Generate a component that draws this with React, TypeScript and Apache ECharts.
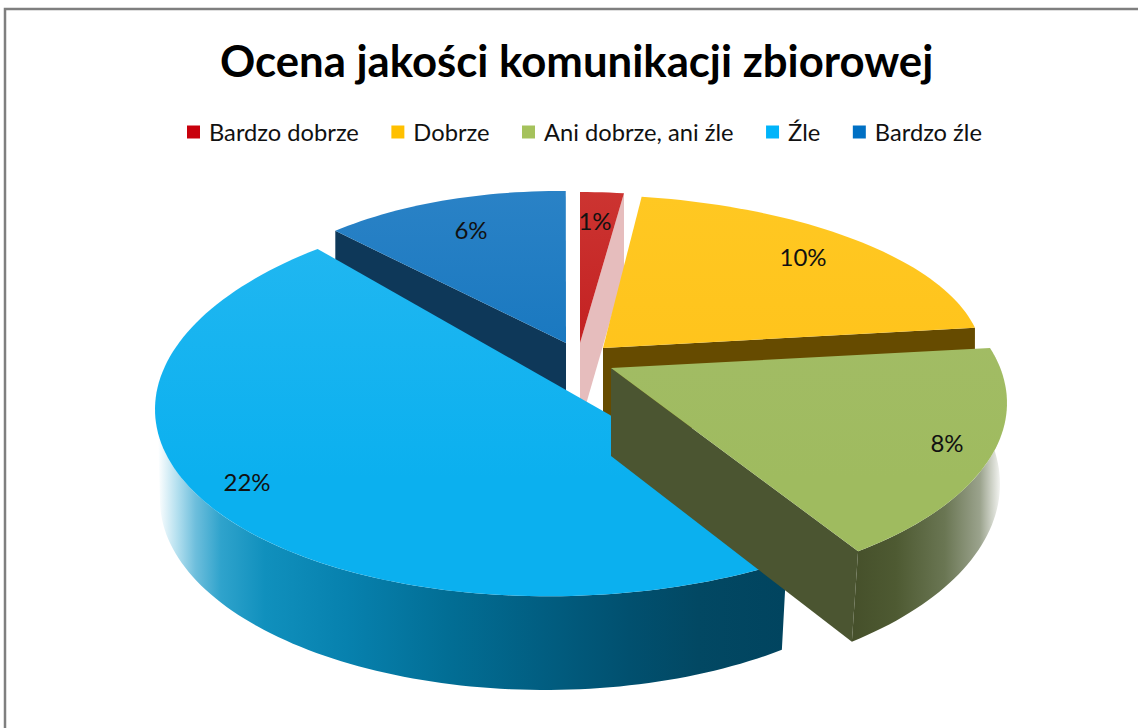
import React, { useEffect, useRef } from "react";
import * as echarts from "echarts";

const titleText = "Ocena jakości komunikacji zbiorowej";
const categories = ["Bardzo dobrze", "Dobrze", "Ani dobrze, ani źle", "Źle", "Bardzo źle"];
const values = [1, 10, 8, 22, 6];
const legendColors = ["#C8000C", "#FFC000", "#A5C25C", "#00B4FA", "#0070C4"];

const total = values.reduce((a, b) => a + b, 0);
const cumulative = values.map((_, i) => values.slice(0, i).reduce((a, b) => a + b, 0));

type Ell = { cx: number; cy: number; rx: number; ry: number; shear?: number };
type Layout = {
  z: number;
  apex: [number, number];
  apexDepth: number;
  top: Ell;
  bottom: Ell;
  dStart: number;
  dEnd: number;
  dBottom: number;
  topFill: [string, string];
  radialEdge?: "start" | "end";
  radialFill?: string;
  outer?: { from?: number; to?: number; x: number; x2: number; stops: [number, string][] };
  label: [number, number];
};

const layouts: Layout[] = [
  {
    z: 2,
    apex: [580, 343],
    apexDepth: 82,
    top: { cx: 580, cy: 342, rx: 330, ry: 150 },
    bottom: { cx: 580, cy: 422, rx: 330, ry: 150 },
    dStart: 0,
    dEnd: 0,
    dBottom: 0,
    topFill: ["#CC3431", "#C01A1C"],
    radialEdge: "end",
    radialFill: "#E6BDBD",
    label: [595, 220],
  },
  {
    z: 3,
    apex: [603, 348],
    apexDepth: 85,
    top: { cx: 600, cy: 350, rx: 382, ry: 155, shear: 0.02 },
    bottom: { cx: 600, cy: 435, rx: 382, ry: 155, shear: 0.02 },
    dStart: -1.4,
    dEnd: -5.3,
    dBottom: 0,
    topFill: ["#FFC822", "#FFC21A"],
    radialEdge: "end",
    radialFill: "#664B00",
    label: [803, 256],
  },
  {
    z: 5,
    apex: [611, 368],
    apexDepth: 88,
    top: { cx: 620, cy: 403, rx: 387, ry: 188 },
    bottom: { cx: 615, cy: 484, rx: 385, ry: 200 },
    dStart: -11.3,
    dEnd: -3.5,
    dBottom: 0,
    topFill: ["#A4BD69", "#9FBB5F"],
    radialEdge: "end",
    radialFill: "#4B5531",
    outer: {
      from: 75,
      x: 850,
      x2: 1003,
      stops: [
        [0, "#454F2A"],
        [0.3, "#4E5A32"],
        [0.62, "#6A7653"],
        [0.85, "#9BA38D"],
        [1, "#FFFFFF"],
      ],
    },
    label: [947, 442],
  },
  {
    z: 4,
    apex: [610, 415],
    apexDepth: 88,
    top: { cx: 570, cy: 399, rx: 415, ry: 197, shear: -0.025 },
    bottom: { cx: 545, cy: 500, rx: 385, ry: 190 },
    dStart: 3,
    dEnd: 8.5,
    dBottom: -6.5,
    topFill: ["#24B8F1", "#0BB0EF"],
    outer: {
      to: 275,
      x: 158,
      x2: 787,
      stops: [
        [0, "#FFFFFF"],
        [0.03, "#B5E0EF"],
        [0.06, "#6DBEDC"],
        [0.1, "#2FA3CC"],
        [0.17, "#1090BD"],
        [0.3, "#0781AE"],
        [0.46, "#026E95"],
        [0.62, "#015D80"],
        [0.75, "#01506F"],
        [0.86, "#024863"],
        [1, "#01445F"],
      ],
    },
    label: [247, 481],
  },
  {
    z: 1,
    apex: [566, 343],
    apexDepth: 85,
    top: { cx: 560, cy: 341, rx: 331, ry: 150 },
    bottom: { cx: 560, cy: 426, rx: 331, ry: 150 },
    dStart: 3.2,
    dEnd: 1,
    dBottom: 0,
    topFill: ["#2A82C6", "#1475BE"],
    radialEdge: "start",
    radialFill: "#0E3859",
    label: [471, 229],
  },
];

const pointAt = (e: Ell, deg: number): number[] => {
  const t = (deg * Math.PI) / 180;
  const dx = e.rx * Math.sin(t);
  return [e.cx + dx, e.cy - e.ry * Math.cos(t) + (e.shear || 0) * dx];
};
const arc = (e: Ell, a: number, b: number): number[][] => {
  const n = Math.max(2, Math.ceil(Math.abs(b - a) / 1.5));
  const out: number[][] = [];
  for (let i = 0; i <= n; i++) out.push(pointAt(e, a + ((b - a) * i) / n));
  return out;
};

const makeRender = (index: number) => (_params: any, api: any) => {
  const value = api.value(0) as number;
  const l = layouts[index];
  const start = (cumulative[index] / total) * 360 + l.dStart;
  const end = ((cumulative[index] + value) / total) * 360 + l.dEnd;
  const children: any[] = [];

  if (l.radialEdge) {
    const edge = l.radialEdge === "start" ? start : end;
    children.push({
      type: "polygon",
      shape: {
        points: [
          l.apex,
          pointAt(l.top, edge),
          pointAt(l.bottom, edge + l.dBottom),
          [l.apex[0], l.apex[1] + l.apexDepth],
        ],
      },
      style: { fill: l.radialFill },
    });
  }
  if (l.outer) {
    const o = l.outer;
    const a = o.from ?? start;
    const b = o.to ?? end;
    children.push({
      type: "polygon",
      shape: {
        points: [...arc(l.top, a, b), ...arc(l.bottom, b + l.dBottom, a + l.dBottom)],
      },
      style: {
        fill: {
          type: "linear",
          x: o.x,
          y: 0,
          x2: o.x2,
          y2: 0,
          global: true,
          colorStops: o.stops.map(([offset, color]) => ({ offset, color })),
        },
      },
    });
  }
  children.push({
    type: "polygon",
    shape: { points: [l.apex, ...arc(l.top, start, end)] },
    style: {
      fill: {
        type: "linear",
        x: 0,
        y: l.top.cy - l.top.ry,
        x2: 0,
        y2: l.top.cy + l.top.ry * 0.4,
        global: true,
        colorStops: [
          { offset: 0, color: l.topFill[0] },
          { offset: 1, color: l.topFill[1] },
        ],
      },
    },
  });
  children.push({
    type: "text",
    x: l.label[0],
    y: l.label[1],
    style: {
      text: `${value}%`,
      font: '24px Lato, "Noto Sans", sans-serif',
      fill: "#111111",
      align: "center",
      verticalAlign: "middle",
    },
  });
  return { type: "group", children };
};

export default function App() {
  const ref = useRef<HTMLDivElement>(null);
  useEffect(() => {
    document.body.style.margin = "0";
    const chart = echarts.init(ref.current!, undefined, { renderer: "svg" });
    chart.setOption({
      animation: false,
      backgroundColor: "#FFFFFF",
      title: {
        text: titleText,
        left: 220,
        top: 38,
        padding: 0,
        textStyle: {
          fontFamily: "Lato, sans-serif",
          fontSize: 43.7,
          fontWeight: "bold",
          color: "#000000",
        },
      },
      legend: {
        left: 187,
        top: 120,
        padding: 0,
        itemWidth: 13,
        itemHeight: 13,
        itemGap: 32.5,
        icon: "rect",
        data: categories,
        textStyle: {
          fontFamily: "Lato, sans-serif",
          fontSize: 23.7,
          color: "#111111",
          padding: [0, 0, 0, 4],
        },
      },
      graphic: [
        {
          type: "rect",
          shape: { x: 5, y: 9, width: 1300, height: 900 },
          style: { fill: "none", stroke: "#7F7F7F", lineWidth: 2.5 },
          silent: true,
          z: 100,
        },
      ],
      series: categories.map((name, i) => ({
        type: "custom",
        name,
        coordinateSystem: "none",
        z: layouts[i].z,
        itemStyle: { color: legendColors[i] },
        data: [[values[i]]],
        renderItem: makeRender(i),
        clip: false,
        silent: true,
      })),
    });
    return () => chart.dispose();
  }, []);
  return (
    <div
      ref={ref}
      style={{ position: "fixed", left: 0, top: 0, width: 1138, height: 728 }}
    />
  );
}
